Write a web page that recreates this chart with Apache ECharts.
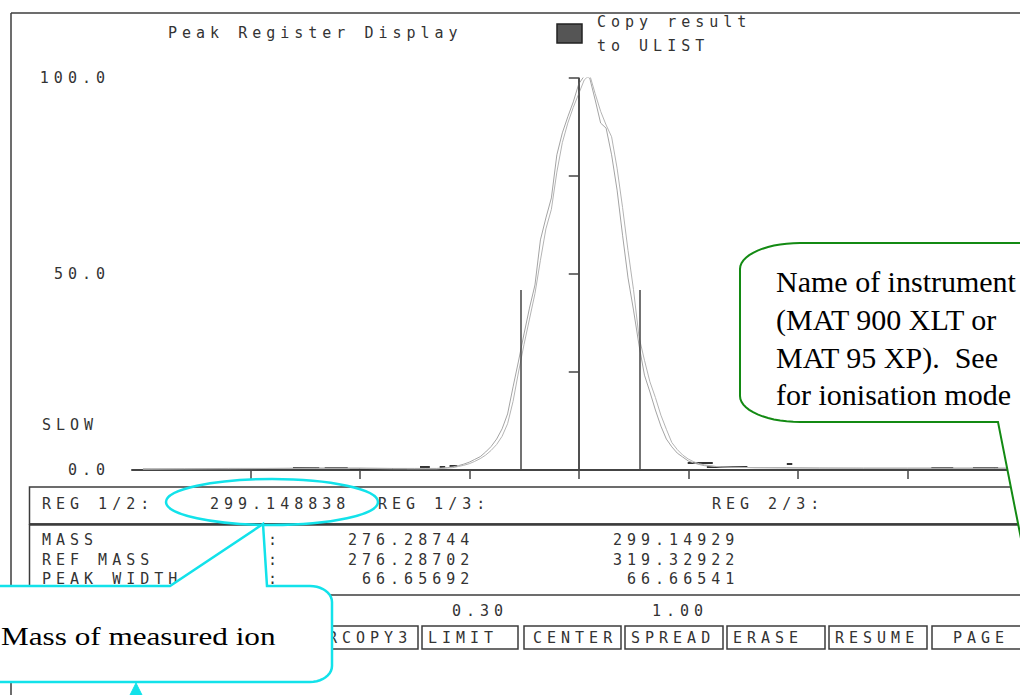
<!DOCTYPE html>
<html>
<head>
<meta charset="utf-8">
<script src="https://cdn.jsdelivr.net/npm/echarts@6/dist/echarts.min.js"></script>
<style>
html, body { margin: 0; padding: 0; background: #fff; }
#main { width: 1020px; height: 695px; }
#main text[style*="Mono"], #main tspan[style*="Mono"] { letter-spacing: 5px; }
</style>
</head>
<body>
<div id="main"></div>
<script>
// ---------- data ----------
// x in scan units (tick spacing = 1, centre of peak = 0), y in % intensity
const scanX = [-3.98,-3.6,-3.2,-2.8,-2.4,-2.0,-1.7,-1.5,-1.4,
  -1.30,-1.25,-1.20,-1.15,-1.10,-1.05,-1.00,-0.95,-0.90,-0.85,-0.80,-0.75,-0.70,-0.65,-0.60,-0.55,-0.50,-0.45,-0.40,-0.35,-0.30,-0.25,-0.20,-0.15,-0.10,-0.05,
  0,0.05,0.10,0.15,0.20,0.25,0.30,0.35,0.40,0.45,0.50,0.55,0.60,0.65,0.70,0.75,0.80,0.85,0.90,0.95,1.00,1.05,1.10,1.15,1.20,1.25,1.30,
  1.4,1.6,1.9,2.2,2.6,3.0,3.4,3.8,4.2,4.5];
const traceA = [0.3,0.3,0.4,0.4,0.5,0.5,0.4,0.4,0.4,
  0.4,0.5,0.6,0.8,1.1,1.5,2.0,2.7,3.4,4.6,6.0,7.9,10.5,14.3,21.2,27.8,34.7,41.3,47.2,58.7,64.3,69.4,80.4,86.0,90.1,93.9,
  98.5,100.5,100.0,94.4,88.5,87.2,80.4,71.4,59.9,49.0,40.8,31.9,24.2,19.9,15.3,11.2,7.9,5.9,4.3,3.3,2.3,1.8,1.4,1.1,1.0,0.9,0.8,
  0.7,0.6,0.6,0.5,0.5,0.5,0.5,0.5,0.5,0.5];
const traceB = [0.2,0.3,0.3,0.4,0.4,0.4,0.3,0.3,0.3,
  0.3,0.4,0.5,0.6,0.9,1.2,1.6,2.2,2.9,3.8,5.0,6.5,8.6,11.8,17.5,25.0,32.0,38.5,45.0,53.5,61.5,66.5,76.0,83.5,88.5,92.5,
  96.0,99.5,100.8,96.0,91.5,88.0,85.0,77.0,67.0,56.0,46.0,34.0,28.0,22.5,18.5,14.0,10.4,7.0,5.2,3.8,2.8,2.1,1.6,1.3,1.1,0.9,0.8,
  0.7,0.6,0.5,0.5,0.4,0.4,0.4,0.4,0.4,0.4];
// register markers (vertical lines)
const markerX = [-0.53, 0, 0.557];
const markerH = [45.9, 100, 45.9];
// short dark baseline noise segments
const noiseX0 = [-2.61,-2.32,-2.09,-1.45,-1.27,-1.18,0.995,1.17,1.90,3.22,3.60];
const noiseX1 = [-2.37,-2.11,-1.57,-1.36,-1.22,-1.11,1.224,1.54,1.95,3.42,3.83];
const noiseY  = [0.5,0.5,0.4,0.8,0.8,1.0,1.9,0.8,1.6,0.7,0.7];
// axis ticks
const xTicks = [-3,-2,-1,0,1,2,3,4];
const yLabelled = [0, 50, 100];
// table texts
const regLabels = ['REG 1/2:', 'REG 1/3:', 'REG 2/3:'];
const regValue = '299.148838';
const rowNames = ['MASS', 'REF MASS', 'PEAK WIDTH'];
const col1 = ['276.28744', '276.28702', ' 66.65692'];
const col2 = ['299.14929', '319.32922', ' 66.66541'];
const limits = ['0.30', '1.00'];
const buttons = ['RCOPY3', 'LIMIT', 'CENTER', 'SPREAD', 'ERASE', 'RESUME', 'PAGE'];
const greenLines = ['Name of instrument', '(MAT 900 XLT or', 'MAT 95 XP).  See', 'for ionisation mode'];
const cyanText = 'Mass of measured ion';

// ---------- drawing ----------
const chart = echarts.init(document.getElementById('main'), null, { renderer: 'svg' });
const MONO = 'DejaVu Sans Mono';
const TXT = '#333333';
const FRAME = '#3c3c3c';
const CYAN = '#12e2ea';
const GREEN = '#138a13';

function mono(text, x, y) {
  return { type: 'text', x: x, y: y, z: 10,
    style: { text: text, fill: TXT, fontFamily: MONO, fontSize: 15, align: 'left', verticalAlign: 'middle' } };
}
function hline(x1, x2, y, w) {
  return { type: 'line', z: 5, shape: { x1: x1, y1: y, x2: x2, y2: y }, style: { stroke: FRAME, lineWidth: w || 1.5 } };
}
function vline(x, y1, y2, w) {
  return { type: 'line', z: 5, shape: { x1: x, y1: y1, x2: x, y2: y2 }, style: { stroke: FRAME, lineWidth: w || 1.5 } };
}
function arcPts(cx, cy, rx, ry, a0, a1, n) {
  const p = [];
  for (let i = 0; i <= n; i++) {
    const a = (a0 + (a1 - a0) * i / n) * Math.PI / 180;
    p.push([cx + rx * Math.cos(a), cy + ry * Math.sin(a)]);
  }
  return p;
}

const g = [];
// outer frame
g.push(vline(11, 13, 700));
g.push(hline(11, 1100, 13));
// header
g.push(mono('Peak Register Display', 168, 33));
g.push({ type: 'rect', z: 10, shape: { x: 557, y: 24, width: 25, height: 19 },
  style: { fill: '#555', stroke: '#222', lineWidth: 1.5 } });
g.push(mono('Copy result', 597, 22));
g.push(mono('to ULIST', 597, 46));
g.push(mono('SLOW', 42, 425));
// REG box
g.push({ type: 'rect', z: 5, shape: { x: 29.5, y: 487, width: 1100, height: 37 },
  style: { fill: 'none', stroke: FRAME, lineWidth: 1.5 } });
g.push(hline(29, 1100, 524.5, 2.5));
g.push(mono(regLabels[0], 42, 504));
g.push(mono(regValue, 210, 504));
g.push(mono(regLabels[1], 378, 504));
g.push(mono(regLabels[2], 712, 504));
// data box
g.push(vline(29.5, 524, 595));
g.push(hline(29, 1100, 595));
const rowY = [540, 560, 579];
rowNames.forEach(function (n, i) {
  g.push(mono(n, 42, rowY[i]));
  g.push(mono(':', 268, rowY[i]));
  g.push(mono(col1[i], 348, rowY[i]));
  g.push(mono(col2[i], 613, rowY[i]));
});
g.push(mono(limits[0], 452, 611));
g.push(mono(limits[1], 652, 611));
// buttons
const btnL = [320, 422, 524, 625, 727, 829, 932];
const btnR = [418, 518, 621, 723, 825, 927, 1030];
const btnT = [328, 428, 533, 631, 733, 835, 953];
buttons.forEach(function (b, i) {
  g.push({ type: 'rect', z: 5, shape: { x: btnL[i], y: 626, width: btnR[i] - btnL[i], height: 23 },
    style: { fill: 'none', stroke: FRAME, lineWidth: 1.5 } });
  g.push(mono(b, btnT[i], 638));
});
// green callout
let gp = [[1100, 243]].concat(arcPts(800, 269, 60, 26, -90, -180, 14))
  .concat(arcPts(800, 396, 60, 26, 180, 90, 14))
  .concat([[998, 422], [1041, 640], [1070, 422], [1100, 422]]);
g.push({ type: 'polygon', z: 100, shape: { points: gp }, style: { fill: '#fff', stroke: GREEN, lineWidth: 2 } });
const gBase = [281.5, 319.5, 357.5, 394.5];
greenLines.forEach(function (t, i) {
  g.push({ type: 'text', x: 776, y: gBase[i], z: 101,
    style: { text: t, fill: '#000', fontFamily: 'Liberation Serif', fontSize: 30, align: 'left', verticalAlign: 'middle' } });
});
// cyan ellipse and callout
g.push({ type: 'ellipse', z: 100, shape: { cx: 272, cy: 502, rx: 106, ry: 23 },
  style: { fill: 'none', stroke: CYAN, lineWidth: 2.5 } });
let cp = [[-20, 586], [170, 586], [263, 524], [267, 586]]
  .concat(arcPts(310, 602, 22, 16, -90, 0, 10))
  .concat(arcPts(310, 666, 22, 16, 0, 90, 10))
  .concat([[-20, 682]]);
g.push({ type: 'polygon', z: 100, shape: { points: cp }, style: { fill: '#fff', stroke: CYAN, lineWidth: 2.5 } });
g.push({ type: 'text', x: 1, y: 636, z: 101, scaleX: 1.2,
  style: { text: cyanText, fill: '#000', fontFamily: 'Liberation Serif', fontSize: 26, align: 'left', verticalAlign: 'middle' } });
g.push({ type: 'polygon', z: 100, shape: { points: [[136, 683], [129.5, 696], [142.5, 696]] },
  style: { fill: CYAN, stroke: CYAN, lineWidth: 1 } });

const option = {
  animation: false,
  backgroundColor: '#fff',
  grid: { left: 132, top: 78, width: 939.5, height: 392, containLabel: false, outerBoundsMode: 'none' },
  xAxis: {
    type: 'value', min: -4.08, max: 4.5,
    axisLine: { show: true, onZero: false, lineStyle: { color: '#444', width: 2 } },
    axisTick: { show: true, inside: false, length: 9, customValues: xTicks, lineStyle: { color: '#444', width: 1.5 } },
    axisLabel: { show: false },
    splitLine: { show: false }
  },
  yAxis: {
    type: 'value', min: 0, max: 100, interval: 25,
    axisLine: { show: true, lineStyle: { color: '#444', width: 1.5 } },
    axisTick: { show: true, inside: false, length: 10, lineStyle: { color: '#444', width: 1.5 } },
    axisLabel: {
      margin: 22, color: TXT, fontFamily: MONO, fontSize: 15,
      formatter: function (v) { return yLabelled.indexOf(v) >= 0 ? v.toFixed(1) : ''; }
    },
    splitLine: { show: false }
  },
  series: [
    { type: 'line', name: 'scan 1', data: scanX.map(function (x, i) { return [x, traceA[i]]; }),
      symbol: 'none', smooth: false, lineStyle: { color: '#a4a4a4', width: 1 },
      markLine: {
        silent: true, symbol: 'none', label: { show: false },
        lineStyle: { color: '#444', width: 1.5, type: 'solid' },
        data: markerX.map(function (x, i) { return [{ coord: [x, 0] }, { coord: [x, markerH[i]] }]; })
      } },
    { type: 'line', name: 'scan 2', data: scanX.map(function (x, i) { return [x, traceB[i]]; }),
      symbol: 'none', smooth: false, lineStyle: { color: '#b4b4b4', width: 1 } },
    { type: 'lines', coordinateSystem: 'cartesian2d', name: 'noise',
      data: noiseX0.map(function (x0, i) { return { coords: [[x0, noiseY[i]], [noiseX1[i], noiseY[i]]] }; }),
      lineStyle: { color: '#333', width: 2, opacity: 1 } }
  ],
  graphic: { elements: g }
};
chart.setOption(option);
</script>
</body>
</html>
